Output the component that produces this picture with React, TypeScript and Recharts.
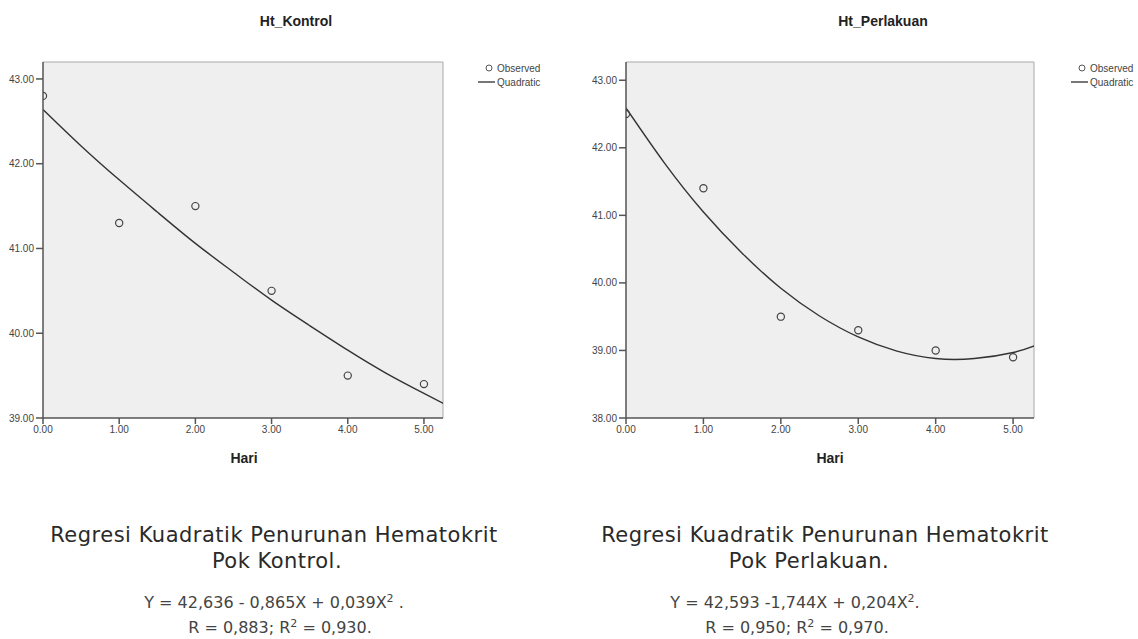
import { ComposedChart, Line, Scatter, XAxis, YAxis, CartesianGrid, ReferenceLine } from 'recharts';

const DAYS = [0, 1, 2, 3, 4, 5];
const KONTROL_OBSERVED = [42.8, 41.3, 41.5, 40.5, 39.5, 39.4];
const PERLAKUAN_OBSERVED = [42.5, 41.4, 39.5, 39.3, 39.0, 38.9];

// quadratic curve
const FIT_X = [0, 0.5, 1, 1.5, 2, 2.5, 3, 3.5, 4, 4.5, 5, 5.3];
const KONTROL_FIT = [42.64, 42.21, 41.81, 41.43, 41.06, 40.72, 40.39, 40.09, 39.8, 39.53, 39.29, 39.15];
const PERLAKUAN_FIT = [42.59, 41.77, 41.05, 40.44, 39.92, 39.51, 39.2, 38.99, 38.88, 38.88, 38.97, 39.08];

const X_TICKS = [0, 1, 2, 3, 4, 5];
const KONTROL_Y_TICKS = [39, 40, 41, 42, 43];
const PERLAKUAN_Y_TICKS = [38, 39, 40, 41, 42, 43];

const zip = (xs: number[], ys: number[]) => xs.map((x, i) => ({ x, y: ys[i] }));

const tickStyle = { fontSize: 10, fill: '#444', fontFamily: 'Liberation Sans, Arial, sans-serif' };
const fmt = (v: number) => v.toFixed(2);

const Ring = (props: any) => (
  <circle cx={props.cx} cy={props.cy} r={3.6} fill="none" stroke="#444" strokeWidth={1.2} />
);

interface PanelProps {
  left: number;
  width: number;
  marginRight: number;
  xMax: number;
  yMin: number;
  yMax: number;
  yTicks: number[];
  observed: { x: number; y: number }[];
  fit: { x: number; y: number }[];
}

function Panel({ left, width, marginRight, xMax, yMin, yMax, yTicks, observed, fit }: PanelProps) {
  return (
    <div style={{ position: 'absolute', left, top: 0 }}>
      <ComposedChart width={width} height={480} margin={{ top: 62, right: marginRight, bottom: 32, left: 0 }}>
        <CartesianGrid fill="#efefef" horizontal={false} vertical={false} />
        <XAxis
          type="number"
          dataKey="x"
          domain={[0, xMax]}
          ticks={X_TICKS}
          allowDataOverflow
          tickFormatter={fmt}
          height={30}
          stroke="#555"
          strokeWidth={1.5}
          tickSize={6}
          tick={tickStyle}
        />
        <YAxis
          type="number"
          dataKey="y"
          domain={[yMin, yMax]}
          ticks={yTicks}
          allowDataOverflow
          tickFormatter={fmt}
          width={43}
          stroke="#555"
          strokeWidth={1.5}
          tickSize={7}
          tick={tickStyle}
        />
        <ReferenceLine y={yMax} stroke="#aaa" />
        <ReferenceLine x={xMax} stroke="#aaa" />
        <Line data={fit} dataKey="y" type="natural" stroke="#333" strokeWidth={1.4} dot={false} isAnimationActive={false} />
        <Scatter data={observed} dataKey="y" shape={Ring} isAnimationActive={false} />
      </ComposedChart>
    </div>
  );
}

const sans = 'DejaVu Sans, Verdana, sans-serif';
const arial = 'Liberation Sans, Arial, sans-serif';

function Legend({ x }: { x: number }) {
  return (
    <g fontFamily={arial} fontSize={10} fill="#444">
      <circle cx={x + 11} cy={68} r={3} fill="none" stroke="#555" strokeWidth={1} />
      <text x={x + 19} y={71.5}>Observed</text>
      <line x1={x} x2={x + 17} y1={82} y2={82} stroke="#555" strokeWidth={1.6} />
      <text x={x + 19} y={85.5}>Quadratic</text>
    </g>
  );
}

export default function App() {
  return (
    <div style={{ position: 'absolute', left: 0, top: 0, width: 1138, height: 639, background: '#fff', overflow: 'hidden' }}>
      <Panel
        left={0}
        width={560}
        marginRight={117}
        xMax={5.25}
        yMin={39}
        yMax={43.2}
        yTicks={KONTROL_Y_TICKS}
        observed={zip(DAYS, KONTROL_OBSERVED)}
        fit={zip(FIT_X, KONTROL_FIT)}
      />
      <Panel
        left={583}
        width={555}
        marginRight={104}
        xMax={5.27}
        yMin={38}
        yMax={43.27}
        yTicks={PERLAKUAN_Y_TICKS}
        observed={zip(DAYS, PERLAKUAN_OBSERVED)}
        fit={zip(FIT_X, PERLAKUAN_FIT)}
      />
      <svg width={1138} height={639} style={{ position: 'absolute', left: 0, top: 0, pointerEvents: 'none' }}>
        <g fontFamily={arial} fontWeight="bold" fill="#222" textAnchor="middle">
          <text x={296} y={26} fontSize={14}>Ht_Kontrol</text>
          <text x={883} y={26} fontSize={14}>Ht_Perlakuan</text>
          <text x={244} y={463} fontSize={14}>Hari</text>
          <text x={830} y={463} fontSize={14}>Hari</text>
        </g>
        <Legend x={478} />
        <Legend x={1071} />
        <g fontFamily={sans} textAnchor="middle">
          <text x={274} y={542} fontSize={21} letterSpacing={0.5} fill="#2a2a2a">Regresi Kuadratik Penurunan Hematokrit</text>
          <text x={277} y={568} fontSize={21} letterSpacing={0.5} fill="#2a2a2a">Pok Kontrol.</text>
          <text x={274} y={608} fontSize={16} fill="#444">
            Y = 42,636 - 0,865X + 0,039X<tspan dy={-6} fontSize={11}>2</tspan>
            <tspan dy={6}> .</tspan>
          </text>
          <text x={280} y={633} fontSize={16} fill="#444">
            R = 0,883; R<tspan dy={-6} fontSize={11}>2</tspan>
            <tspan dy={6}> = 0,930.</tspan>
          </text>
          <text x={825} y={542} fontSize={21} letterSpacing={0.5} fill="#2a2a2a">Regresi Kuadratik Penurunan Hematokrit</text>
          <text x={809} y={568} fontSize={21} letterSpacing={0.5} fill="#2a2a2a">Pok Perlakuan.</text>
          <text x={795} y={608} fontSize={16} fill="#444">
            Y = 42,593 -1,744X + 0,204X<tspan dy={-6} fontSize={11}>2</tspan>
            <tspan dy={6}>.</tspan>
          </text>
          <text x={797} y={633} fontSize={16} fill="#444">
            R = 0,950; R<tspan dy={-6} fontSize={11}>2</tspan>
            <tspan dy={6}> = 0,970.</tspan>
          </text>
        </g>
      </svg>
    </div>
  );
}
